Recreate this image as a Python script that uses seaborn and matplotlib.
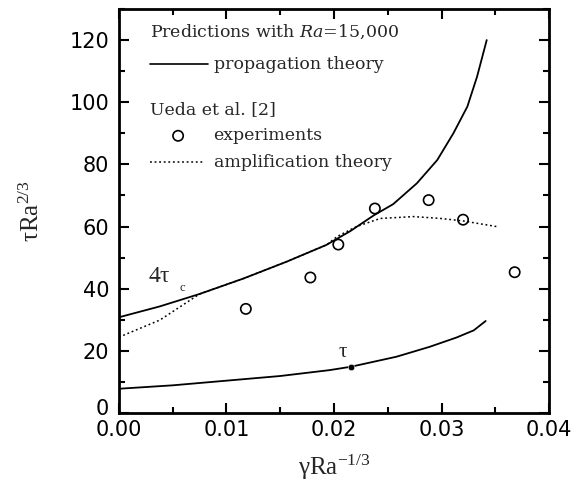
import matplotlib
matplotlib.use("Agg")
import matplotlib.pyplot as plt
import matplotlib.transforms as mtransforms
import seaborn as sns

# 4*tau_c propagation theory (solid)
prop_c_x = [0.0, 0.0038, 0.0075, 0.0116, 0.0156, 0.0193, 0.0215, 0.0237, 0.0255, 0.0277,
            0.0296, 0.0311, 0.0324, 0.0333, 0.0342]
prop_c_y = [30.8, 34.3, 38.3, 43.3, 48.7, 54.1, 58.5, 63.6, 67.2, 73.9,
            81.4, 90.0, 98.6, 108.2, 120.0]
# tau propagation theory (solid)
prop_t_x = [0.0, 0.005, 0.010, 0.0150, 0.0196, 0.0216, 0.0258, 0.0289, 0.0314, 0.0330, 0.0341]
prop_t_y = [7.8, 8.9, 10.4, 11.9, 13.8, 14.9, 18.1, 21.3, 24.3, 26.6, 29.6]
# amplification theory (dotted)
amp_x = [0.0, 0.0038, 0.0075, 0.0116, 0.0156, 0.0193, 0.0203, 0.0221, 0.0243, 0.0274,
         0.0299, 0.0320, 0.0351]
amp_y = [24.4, 29.9, 38.3, 43.3, 48.7, 54.1, 56.8, 60.0, 62.6, 63.2,
         62.6, 61.8, 60.0]
# experiments (circles)
exp_x = [0.0118, 0.0178, 0.0204, 0.0238, 0.0288, 0.0320, 0.0368]
exp_y = [33.5, 43.6, 54.2, 65.8, 68.5, 62.2, 45.3]
# marked point on tau curve
dot_x = [0.0216]
dot_y = [14.9]

x_ticks = [0.00, 0.01, 0.02, 0.03, 0.04]
x_ticklabels = ["0.00", "0.01", "0.02", "0.03", "0.04"]
y_ticks = [0, 20, 40, 60, 80, 100, 120]
y_ticklabels = ["0", "20", "40", "60", "80", "100", "120"]

sns.set_theme(style="ticks")
plt.rcParams['font.family'] = ['DejaVu Sans']
plt.rcParams['mathtext.fontset'] = 'custom'
plt.rcParams['mathtext.rm'] = 'Liberation Serif'
plt.rcParams['mathtext.it'] = 'DejaVu Serif:italic'

fig = plt.figure(figsize=(5.86, 4.92), dpi=100)
ax = fig.add_axes([0.203, 0.1606, 0.734, 0.8211])

sns.lineplot(x=prop_c_x, y=prop_c_y, ax=ax, color="black", lw=1.3, sort=False, estimator=None)
sns.lineplot(x=prop_t_x, y=prop_t_y, ax=ax, color="black", lw=1.3, sort=False, estimator=None)
sns.lineplot(x=amp_x, y=amp_y, ax=ax, color="black", lw=1.1, sort=False, estimator=None,
             linestyle=(0, (1.2, 1.8)))
sns.scatterplot(x=exp_x, y=exp_y, ax=ax, marker="o", s=55, facecolor="none",
                edgecolor="black", linewidth=1.2, zorder=5)
sns.scatterplot(x=dot_x, y=dot_y, ax=ax, marker="o", s=22, color="black", zorder=6)

ax.set_xlim(0, 0.04)
ax.set_ylim(0, 130)
ax.set_xticks(x_ticks)
ax.set_xticklabels(x_ticklabels)
ax.set_yticks(y_ticks)
ax.set_yticklabels(y_ticklabels)
ax.set_xticks([0.005, 0.015, 0.025, 0.035], minor=True)
ax.set_yticks([10, 30, 50, 70, 90, 110, 130], minor=True)
ax.tick_params(which="both", direction="in", top=True, right=True, width=1.5, colors="black",
               labelsize=15)
ax.tick_params(axis="x", which="major", pad=5)
ax.tick_params(axis="y", which="major", pad=7)
ax.tick_params(which="major", length=7)
ax.tick_params(which="minor", length=4)
for s in ax.spines.values():
    s.set_linewidth(2)
    s.set_color("black")
    s.set_visible(True)

# lift the "0" y tick label slightly so it sits above "0.00" as in the reference
ylab0 = ax.get_yticklabels()[0]
ylab0.set_transform(ylab0.get_transform() + mtransforms.ScaledTranslation(0, 4 / 72, fig.dpi_scale_trans))

serif = "Liberation Serif"
ax.set_xlabel(r"$\mathregular{\gamma Ra^{-1/3}}$", fontsize=18, fontfamily=serif, labelpad=9)
ax.set_ylabel(r"$\mathregular{\tau Ra^{2/3}}$", fontsize=18, fontfamily=serif, labelpad=18)

tserif = "DejaVu Serif"
tfs = 12.5
ax.text(0.0029, 122.5, r"Predictions with $\it{Ra}$=15,000", fontsize=tfs, fontfamily=tserif, va="center")
ax.plot([0.0029, 0.0083], [112.2, 112.2], color="black", lw=1.2)
ax.text(0.0088, 112.2, "propagation theory", fontsize=tfs, fontfamily=tserif, va="center")
ax.text(0.0029, 97.7, "Ueda et al. [2]", fontsize=tfs, fontfamily=tserif, va="center")
ax.scatter([0.0055], [89.2], s=55, facecolor="none", edgecolor="black", linewidth=1.2)
ax.text(0.0088, 89.2, "experiments", fontsize=tfs, fontfamily=tserif, va="center")
ax.plot([0.0029, 0.0078], [80.7, 80.7], color="black", lw=1.1, linestyle=(0, (1.2, 1.8)))
ax.text(0.0088, 80.7, "amplification theory", fontsize=tfs, fontfamily=tserif, va="center")

ax.text(0.0027, 43.8, r"4$\mathregular{\tau}$", fontsize=17, fontfamily=serif, va="center")
ax.text(0.0056, 40.3, "c", fontsize=9, fontfamily=serif, va="center")
ax.text(0.0204, 19.5, r"$\mathregular{\tau}$", fontsize=15, fontfamily=serif, va="center")

fig.savefig("out.png", dpi=100)
